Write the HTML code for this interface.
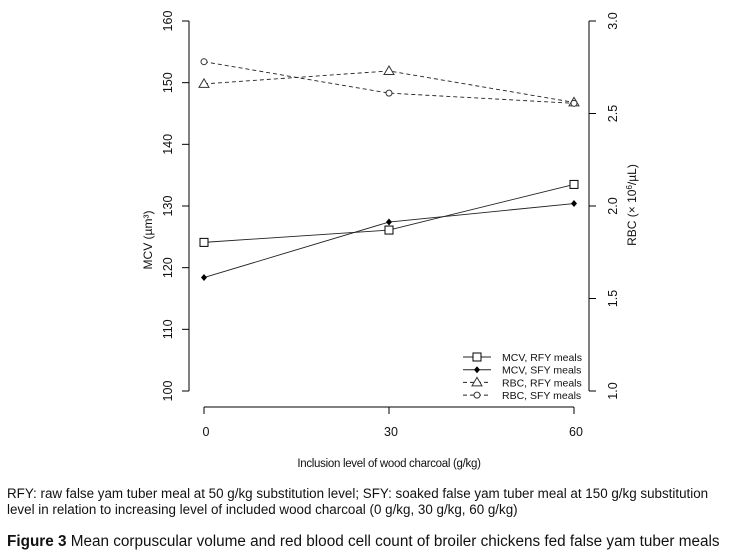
<!DOCTYPE html>
<html><head><meta charset="utf-8"><style>
body{margin:0;background:#fff;width:748px;height:558px;overflow:hidden;font-family:"Liberation Sans",Arial,sans-serif}
svg text{font-family:"Liberation Sans",Arial,sans-serif;fill:#111}
.cap{position:absolute;left:7px;width:741px;font-size:13.4px;color:#111;line-height:16px;white-space:nowrap}
</style></head><body>
<svg id="chart" width="748" height="480" style="position:absolute;left:0;top:0" xmlns="http://www.w3.org/2000/svg">
<g id="axes"></g><g id="marks"></g><g id="legend"></g>
</svg>
<div class="cap" style="top:486px">RFY: raw false yam tuber meal at 50 g/kg substitution level; SFY: soaked false yam tuber meal at 150 g/kg substitution<br>level in relation to increasing level of included wood charcoal (0 g/kg, 30 g/kg, 60 g/kg)</div>
<div class="cap" style="top:534px;font-size:15.3px"><b>Figure 3</b> Mean corpuscular volume and red blood cell count of broiler chickens fed false yam tuber meals</div>
<script>
const categories=[0,30,60];
const mcvRFY=[124.1,126.1,133.5];
const mcvSFY=[118.4,127.4,130.4];
const rbcRFY=[2.66,2.73,2.56];
const rbcSFY=[2.78,2.61,2.555];
const leftTicks=[100,110,120,130,140,150,160];
const rightTicks=[1.0,1.5,2.0,2.5,3.0];
const NS="http://www.w3.org/2000/svg";
const X=v=>204+(v-0)*(370/60);
const YL=v=>391-(v-100)*(370/60);
const YR=v=>391-(v-1)*(370/2);
function mk(t,a,p){const e=document.createElementNS(NS,t);for(const k in a)e.setAttribute(k,a[k]);p.appendChild(e);return e;}
const ax=document.getElementById('axes'),mg=document.getElementById('marks'),lg=document.getElementById('legend');
let e=mk('line',{x1:189,y1:YL(100),x2:189,y2:YL(160),stroke:'#000'},ax);

leftTicks.forEach(t=>{mk('line',{x1:182,y1:YL(t),x2:189,y2:YL(t),stroke:'#000'},ax);
 const tx=mk('text',{x:172,y:YL(t),'font-size':12.5,'text-anchor':'middle',transform:`rotate(-90 172 ${YL(t)})`},ax);tx.textContent=t;
 });
e=mk('line',{x1:589,y1:YR(1),x2:589,y2:YR(3),stroke:'#000'},ax);

rightTicks.forEach(t=>{mk('line',{x1:589,y1:YR(t),x2:596,y2:YR(t),stroke:'#000'},ax);
 const tx=mk('text',{x:617,y:YR(t),'font-size':12.5,'text-anchor':'middle',transform:`rotate(-90 617 ${YR(t)})`},ax);tx.textContent=t.toFixed(1);
 });
e=mk('line',{x1:X(0),y1:407,x2:X(60),y2:407,stroke:'#000'},ax);

categories.forEach(c=>{mk('line',{x1:X(c),y1:407,x2:X(c),y2:414,stroke:'#000'},ax);
 const tx=mk('text',{x:X(c)+2,y:436,'font-size':12.5,'text-anchor':'middle'},ax);tx.textContent=c;
 });
e=mk('text',{x:389,y:467,'font-size':11.5,'text-anchor':'middle','letter-spacing':'-0.3'},ax);e.textContent='Inclusion level of wood charcoal (g/kg)';

e=mk('text',{x:152,y:240,'font-size':12,'text-anchor':'middle',transform:'rotate(-90 152 240)'},ax);e.textContent='MCV (µm³)';

e=mk('text',{x:636,y:205,'font-size':12,'text-anchor':'middle',transform:'rotate(-90 636 205)'},ax);e.innerHTML='RBC (× 10<tspan dy="-4" font-size="8">6</tspan><tspan dy="4">/µL)</tspan>';

function marker(type,x,y,p){
 if(type==='sq')return mk('rect',{x:x-4,y:y-4,width:8,height:8,fill:'#fff',stroke:'#000'},p);
 if(type==='dia')return mk('path',{d:`M${x} ${y-3.5}L${x+3} ${y}L${x} ${y+3.5}L${x-3} ${y}Z`,fill:'#000'},p);
 if(type==='tri')return mk('path',{d:`M${x} ${y-5}L${x+5} ${y+3.5}L${x-5} ${y+3.5}Z`,fill:'#fff',stroke:'#333'},p);
 return mk('circle',{cx:x,cy:y,r:3,fill:'#fff',stroke:'#333'},p);
}
const series=[
 {name:'mcv-rfy',vals:mcvRFY,y:YL,m:'sq',dash:null,label:'MCV, RFY meals'},
 {name:'mcv-sfy',vals:mcvSFY,y:YL,m:'dia',dash:null,label:'MCV, SFY meals'},
 {name:'rbc-rfy',vals:rbcRFY,y:YR,m:'tri',dash:'4 3',label:'RBC, RFY meals'},
 {name:'rbc-sfy',vals:rbcSFY,y:YR,m:'circ',dash:'4 3',label:'RBC, SFY meals'}];
series.forEach((s,i)=>{
 const pts=categories.map((c,j)=>[X(c),s.y(s.vals[j])]);
 const a={points:pts.map(p=>p.join(',')).join(' '),fill:'none',stroke:'#222','stroke-width':0.9};
 if(s.dash)a['stroke-dasharray']=s.dash;
 const l=mk('polyline',a,mg);
 
 pts.forEach(p=>{const m=marker(s.m,p[0],p[1],mg);
  });
 const ly=357+i*12.7;
 const la={x1:463,y1:ly,x2:491,y2:ly,stroke:'#222'};if(s.dash)la['stroke-dasharray']=s.dash;
 mk('line',la,lg);
 marker(s.m,477,ly,lg);
 const lt=mk('text',{x:502,y:ly+4,'font-size':10.5},lg);lt.textContent=s.label;
 
});
</script>
</body></html>
